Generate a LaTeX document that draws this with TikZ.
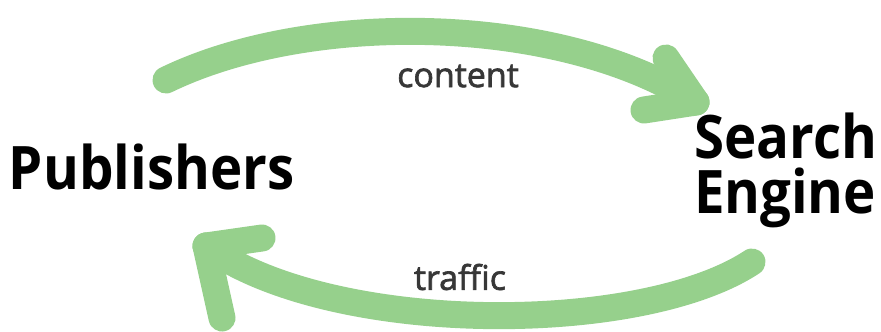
\documentclass[tikz,border=0pt]{standalone}
\usepackage{fontspec}
\setmainfont{Open Sans}
\newfontfamily\flowfont[FakeBold=2]{Open Sans}
\definecolor{chalk}{RGB}{150,208,140}
\definecolor{labelgray}{RGB}{55,55,55}

\begin{document}
\begin{tikzpicture}[x=1pt,y=-1pt]
\tikzstyle{every node}=[inner sep=0pt, outer sep=0pt]
\tikzstyle{party}=[font=\fontsize{60}{55}\selectfont\bfseries, align=left, text=black, xscale=0.91, transform shape]
\tikzstyle{flow}=[font=\fontsize{34}{34}\flowfont, text=labelgray]
\tikzstyle{chalkline}=[draw=chalk, line width=27pt, line cap=round, line join=round]
\useasboundingbox (0,0) rectangle (881,332);
\node (pub) [party, anchor=west] at (9,167) {Publishers};
\node (se) [party, anchor=east] at (877,170) {Search\\Engine};
\node (content) [flow] at (458,76) {content};
\node (traffic) [flow] at (460,277) {traffic};
% top arc, publishers to engine
\coordinate (t1) at (166,80);
\coordinate (t2) at (696,102);
\draw[chalkline] (t1) .. controls (310,10) and (560,14) .. (t2);
\draw[chalkline] (t2) -- (666,58);
\draw[chalkline] (t2) -- (644,110);
% bottom arc, engine to publishers
\coordinate (b1) at (752,262);
\coordinate (b2) at (206,246);
\draw[chalkline] (b1) .. controls (640,336) and (330,336) .. (b2);
\draw[chalkline] (b2) -- (262,238);
\draw[chalkline] (b2) -- (222,318);
\end{tikzpicture}
\end{document}
